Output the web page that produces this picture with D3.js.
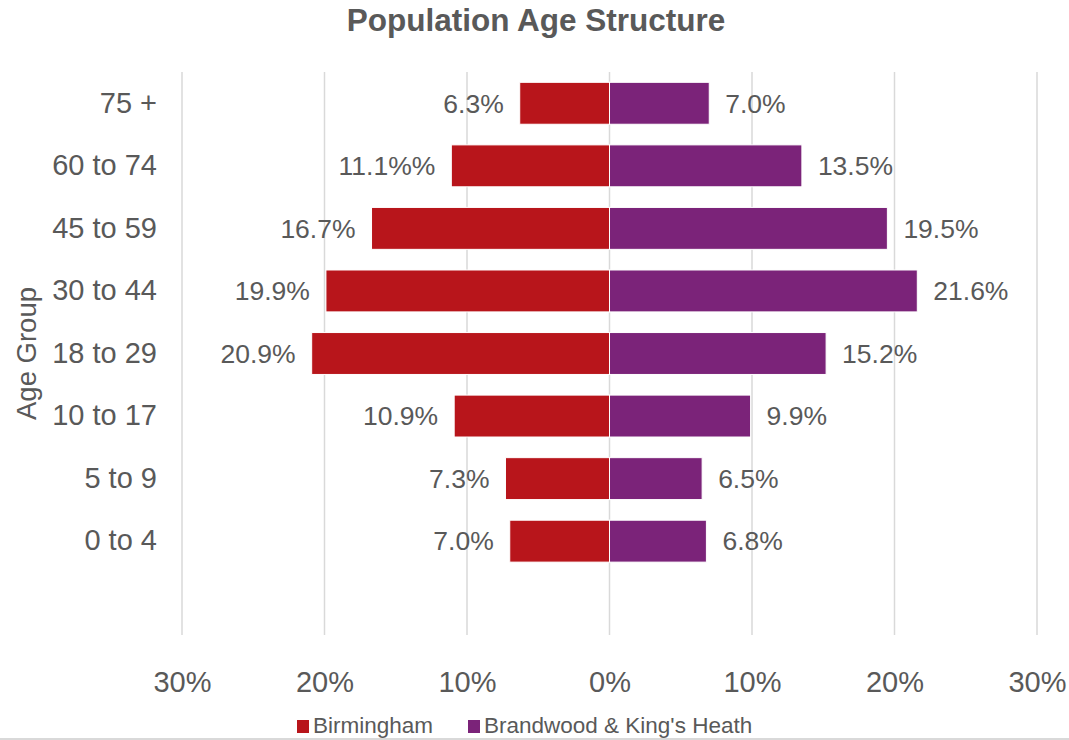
<!DOCTYPE html>
<html lang="en">
<head>
    <meta charset="UTF-8">
    <title>Population Age Structure</title>
    <script src="https://d3js.org/d3.v7.min.js"></script>
    <style>
        body { margin: 0; background: #fff; }
        .chart text { font-family: "Liberation Sans", Arial, sans-serif; fill: #595959; }
    </style>
</head>
<body>
    <div class="chart"></div>

    <script>
        // age bands, top to bottom ("" keeps the empty slot under 0 to 4)
        const ageGroups = ["75 +", "60 to 74", "45 to 59", "30 to 44", "18 to 29", "10 to 17", "5 to 9", "0 to 4", ""];
        const birmingham = [6.3, 11.1, 16.7, 19.9, 20.9, 10.9, 7.3, 7.0];
        const brandwood = [7.0, 13.5, 19.5, 21.6, 15.2, 9.9, 6.5, 6.8];
        const birminghamLabels = ["6.3%", "11.1%%", "16.7%", "19.9%", "20.9%", "10.9%", "7.3%", "7.0%"];
        const tickValues = [-30, -20, -10, 0, 10, 20, 30];
        const seriesNames = ["Birmingham", "Brandwood & King's Heath"];

        const svgWidth = 1069;
        const svgHeight = 740;
        const plot = { left: 182, right: 1037, top: 72, bottom: 635 };

        const red = "#b8151b";
        const purple = "#7b2379";

        const svg = d3.select('.chart')
            .append('svg')
            .attr('width', svgWidth)
            .attr('height', svgHeight);

        const x = d3.scaleLinear()
            .domain([-30, 30])
            .range([plot.left, plot.right]);

        const y = d3.scaleBand()
            .domain(ageGroups)
            .range([plot.top, plot.bottom])
            .paddingInner(0.33)
            .paddingOuter(0.165);

        // gridlines
        svg.append('g')
            .selectAll('line')
            .data(tickValues)
            .join('line')
            .attr('x1', d => x(d)).attr('x2', d => x(d))
            .attr('y1', plot.top).attr('y2', plot.bottom)
            .attr('stroke', '#d9d9d9')
            .attr('stroke-width', 1.5);

        // bars
        const rows = ageGroups.slice(0, 8);
        svg.append('g')
            .selectAll('rect')
            .data(rows)
            .join('rect')
            .attr('x', (d, i) => x(-birmingham[i]))
            .attr('width', (d, i) => x(0) - x(-birmingham[i]))
            .attr('y', d => y(d))
            .attr('height', y.bandwidth())
            .attr('fill', red)
            .attr('stroke', '#fff')
            .attr('stroke-width', 1);

        svg.append('g')
            .selectAll('rect')
            .data(rows)
            .join('rect')
            .attr('x', x(0))
            .attr('width', (d, i) => x(brandwood[i]) - x(0))
            .attr('y', d => y(d))
            .attr('height', y.bandwidth())
            .attr('fill', purple)
            .attr('stroke', '#fff')
            .attr('stroke-width', 1);

        // value labels
        svg.append('g')
            .selectAll('text')
            .data(rows)
            .join('text')
            .attr('x', (d, i) => x(-birmingham[i]) - 16)
            .attr('y', d => y(d) + y.bandwidth() / 2)
            .attr('dy', '0.35em')
            .attr('text-anchor', 'end')
            .attr('font-size', 26.5)
            .text((d, i) => birminghamLabels[i]);

        svg.append('g')
            .selectAll('text')
            .data(rows)
            .join('text')
            .attr('x', (d, i) => x(brandwood[i]) + 16)
            .attr('y', d => y(d) + y.bandwidth() / 2)
            .attr('dy', '0.35em')
            .attr('font-size', 26.5)
            .text((d, i) => brandwood[i].toFixed(1) + '%');

        // y axis
        const yAxis = svg.append('g')
            .attr('transform', `translate(${plot.left - 25},0)`)
            .call(d3.axisLeft(y).tickSize(0).tickPadding(0));
        yAxis.select('.domain').remove();
        yAxis.selectAll('text')
            .attr('font-size', 29)
            .attr('fill', '#595959');

        // x axis
        const xAxis = svg.append('g')
            .attr('transform', `translate(0,${plot.bottom})`)
            .call(d3.axisBottom(x)
                .tickValues(tickValues)
                .tickSize(0)
                .tickPadding(36)
                .tickFormat(d => Math.abs(d) + '%'));
        xAxis.select('.domain').remove();
        xAxis.selectAll('text')
            .attr('font-size', 29)
            .attr('fill', '#595959');

        // title
        svg.append('text')
            .attr('x', 536)
            .attr('y', 31)
            .attr('text-anchor', 'middle')
            .attr('font-size', 31.5)
            .attr('font-weight', 'bold')
            .text('Population Age Structure');

        // y axis title
        svg.append('text')
            .attr('transform', `translate(36,${(plot.top + plot.bottom) / 2}) rotate(-90)`)
            .attr('text-anchor', 'middle')
            .attr('font-size', 27.5)
            .text('Age Group');

        // legend
        const legend = svg.append('g')
            .selectAll('g')
            .data(seriesNames)
            .join('g')
            .attr('transform', (d, i) => `translate(${[297, 468][i]},720)`);
        legend.append('rect')
            .attr('width', 12).attr('height', 13)
            .attr('fill', (d, i) => [red, purple][i]);
        legend.append('text')
            .attr('x', 16)
            .attr('y', 13)
            .attr('font-size', 22.5)
            .text(d => d);

        // chart area border
        svg.append('line')
            .attr('x1', 0).attr('x2', svgWidth)
            .attr('y1', 739).attr('y2', 739)
            .attr('stroke', '#d9d9d9')
            .attr('stroke-width', 2);
    </script>
</body>
</html>
